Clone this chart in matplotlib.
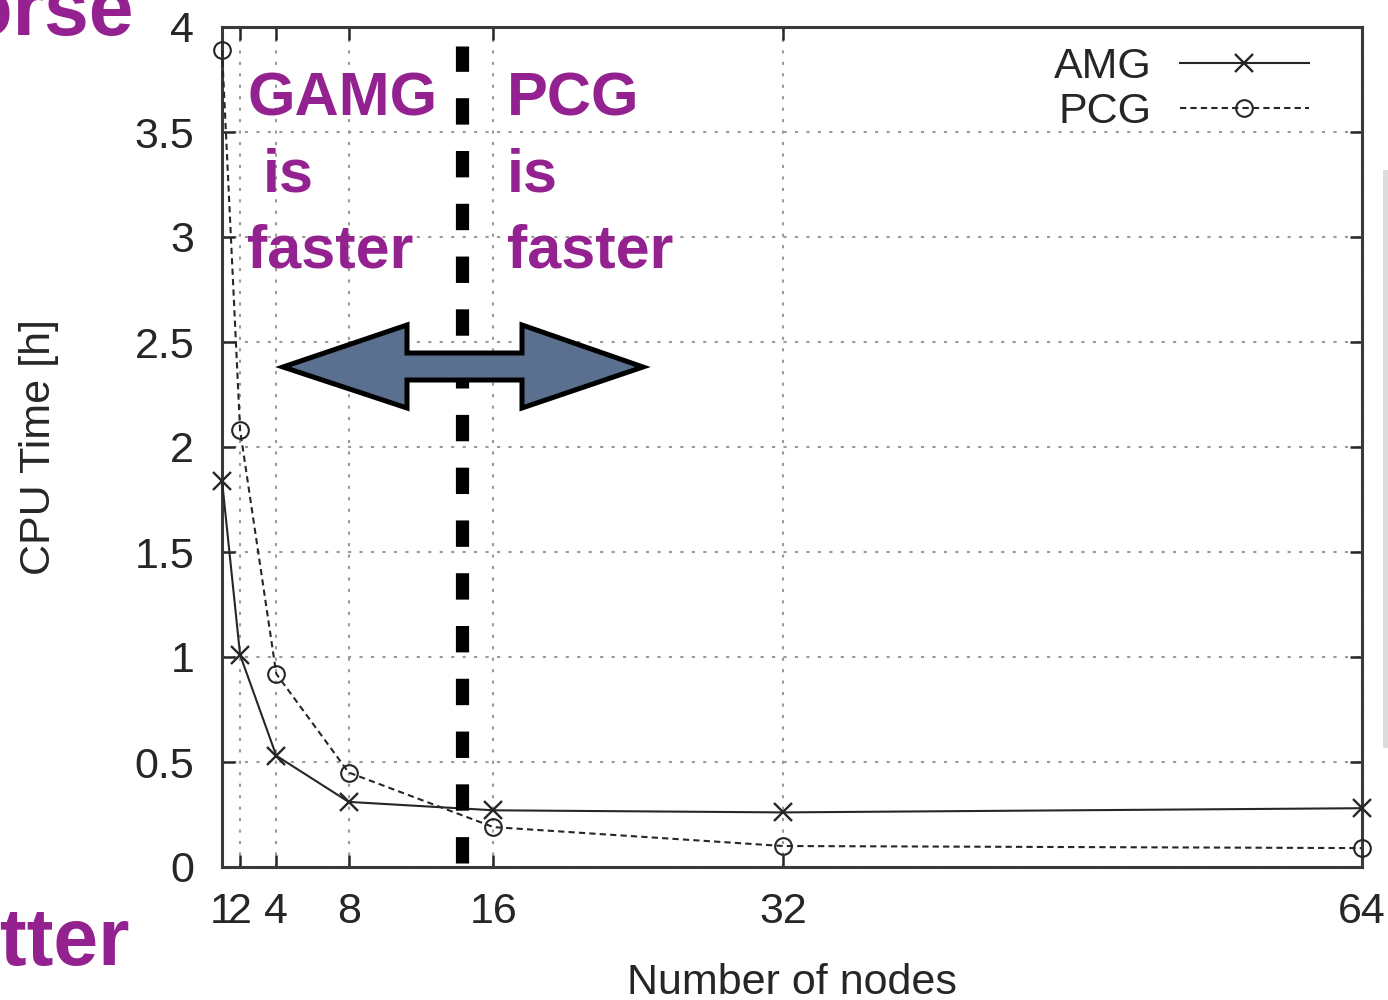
import numpy as np
from matplotlib import pyplot as plt
from matplotlib.patches import Polygon, Rectangle

nodes = [1, 2, 4, 8, 16, 32, 64]
amg = [1.84, 1.01, 0.53, 0.31, 0.27, 0.26, 0.28]
pcg = [3.89, 2.08, 0.92, 0.45, 0.19, 0.10, 0.09]

yticks = [0, 0.5, 1, 1.5, 2, 2.5, 3, 3.5, 4]
ylabels = ['0', '0.5', '1', '1.5', '2', '2.5', '3', '3.5', '4']
xlabels = [str(n) for n in nodes]

PURPLE = '#93218f'
INK = '#262626'
W, H = 1388., 1000.

plt.rcParams['font.family'] = ['Liberation Sans', 'DejaVu Sans']


def fx(px):
    return px / W


def fy(py):
    return 1. - py / H


fig = plt.figure(figsize=(13.88, 10), dpi=100)
ax = fig.add_axes([fx(222), fy(867), (1362 - 222) / W, (867 - 27) / H])

ax.plot(nodes, amg, '-', color=INK, lw=1.5, marker='x', ms=13, mew=1.7,
        label='AMG', clip_on=False, zorder=3)
ax.plot(nodes, pcg, color=INK, lw=1.5, ls=(0, (3, 2)), marker='o', ms=12,
        mew=1.5, mfc='none', label='PCG', clip_on=False, zorder=3)

ax.set_xlim(1, 64)
ax.set_ylim(0, 4)
ax.set_xticks(nodes)
ax.set_xticklabels(xlabels)
ax.set_yticks(yticks)
ax.set_yticklabels(ylabels)
ax.tick_params(direction='in', length=9, width=1.8, colors=INK,
               labelsize=31, top=True, right=True)
ax.tick_params(axis='x', pad=18)
ax.tick_params(axis='y', pad=20)
for s in ax.spines.values():
    s.set_linewidth(2.2)
    s.set_color('#3a3a3a')
ax.grid(True, color='#9a9a9a', lw=1.5, ls=(0, (1.5, 4)))

ax.set_xlabel('Number of nodes', fontsize=31, color=INK, labelpad=22)
ax.set_ylabel('CPU Time [h]', fontsize=31, color=INK, labelpad=54)

leg = ax.legend(loc='upper right', bbox_to_anchor=(0.98, 1.012), frameon=False,
                markerfirst=False, fontsize=31, handlelength=3.0,
                handletextpad=0.65, labelspacing=0.12, borderpad=0.2)
for t in leg.get_texts():
    t.set_color(INK)

# thick dashed divider
ax.plot([14.25, 14.25], [0.02, 3.91], color='black', lw=9.5,
        dashes=(2.0, 2.0), zorder=4)

# double-headed arrow
arrow_px = [(283, 367), (407, 325), (407, 353), (522, 353), (522, 325),
            (643, 367), (522, 408), (522, 380), (407, 380), (407, 408)]
fig.patches.append(Polygon([(fx(a), fy(b)) for a, b in arrow_px],
                           closed=True, transform=fig.transFigure,
                           facecolor='#5b6f8e', edgecolor='black', lw=3.6,
                           zorder=5))

# slide annotations
tk = dict(color=PURPLE, fontsize=44, fontweight='bold', va='baseline',
          zorder=6)
fig.text(fx(247), fy(115), 'GAMG', **tk)
fig.text(fx(263), fy(192), 'is', **tk)
fig.text(fx(247), fy(268), 'faster', **tk)
fig.text(fx(507), fy(115), 'PCG', **tk)
fig.text(fx(507), fy(192), 'is', **tk)
fig.text(fx(507), fy(268), 'faster', **tk)
fig.text(fx(134), fy(35), 'Worse', color=PURPLE, fontsize=58,
         fontweight='bold', ha='right', va='baseline')
fig.text(fx(130), fy(965), 'Better', color=PURPLE, fontsize=58,
         fontweight='bold', ha='right', va='baseline')

# shadow of neighbouring slide object
fig.patches.append(Rectangle((fx(1383), fy(748)), fx(6), (748 - 170) / H,
                             transform=fig.transFigure, facecolor='#dcdcdc',
                             edgecolor='none'))

fig.savefig('out.png', dpi=100)
